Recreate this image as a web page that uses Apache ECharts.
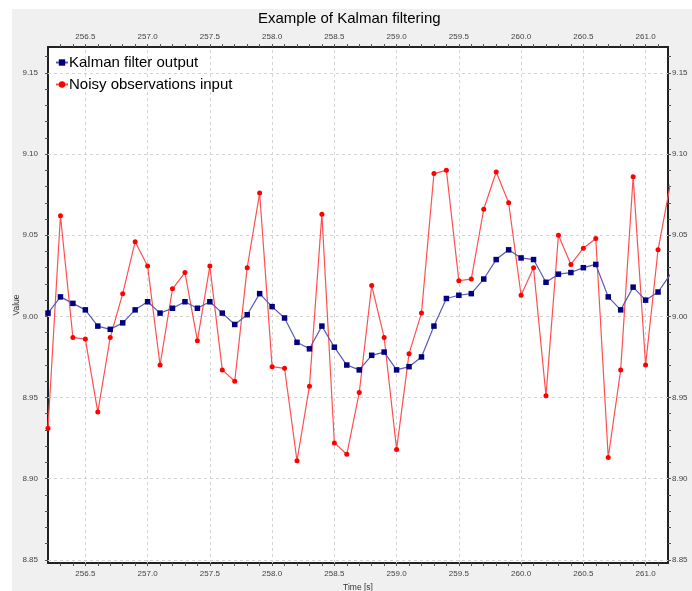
<!DOCTYPE html>
<html>
<head>
<meta charset="utf-8">
<script src="https://cdn.jsdelivr.net/npm/echarts@6/dist/echarts.min.js"></script>
<style>html,body{margin:0;padding:0;background:#fff;}#c{width:692px;height:591px;}</style>
</head>
<body>
<div id="c"></div>
<script>
var times = [256.2,256.3,256.4,256.5,256.6,256.7,256.8,256.9,257.0,257.1,257.2,257.3,257.4,257.5,257.6,257.7,257.8,257.9,258.0,258.1,258.2,258.3,258.4,258.5,258.6,258.7,258.8,258.9,259.0,259.1,259.2,259.3,259.4,259.5,259.6,259.7,259.8,259.9,260.0,260.1,260.2,260.3,260.4,260.5,260.6,260.7,260.8,260.9,261.0,261.1,261.2];
var kalman = [9.002,9.012,9.008,9.004,8.994,8.992,8.996,9.004,9.009,9.002,9.005,9.009,9.005,9.009,9.002,8.995,9.001,9.014,9.006,8.999,8.984,8.980,8.994,8.981,8.970,8.967,8.976,8.978,8.967,8.969,8.975,8.994,9.011,9.013,9.014,9.023,9.035,9.041,9.036,9.035,9.021,9.026,9.027,9.030,9.032,9.012,9.004,9.018,9.010,9.015,9.026];
var noisy = [8.931,9.062,8.987,8.986,8.941,8.987,9.014,9.046,9.031,8.970,9.017,9.027,8.985,9.031,8.967,8.960,9.030,9.076,8.969,8.968,8.911,8.957,9.063,8.922,8.915,8.953,9.019,8.987,8.918,8.977,9.002,9.088,9.090,9.022,9.023,9.066,9.089,9.070,9.013,9.030,8.951,9.050,9.032,9.042,9.048,8.913,8.967,9.086,8.970,9.041,9.082];
var xLabels = [256.5,257.0,257.5,258.0,258.5,259.0,259.5,260.0,260.5,261.0];
var yLabels = [8.85,8.90,8.95,9.00,9.05,9.10,9.15];
var xTicks = [256.3,256.4,256.5,256.6,256.7,256.8,256.9,257.0,257.1,257.2,257.3,257.4,257.5,257.6,257.7,257.8,257.9,258.0,258.1,258.2,258.3,258.4,258.5,258.6,258.7,258.8,258.9,259.0,259.1,259.2,259.3,259.4,259.5,259.6,259.7,259.8,259.9,260.0,260.1,260.2,260.3,260.4,260.5,260.6,260.7,260.8,260.9,261.0,261.1];
var yTicks = [8.85,8.86,8.87,8.88,8.89,8.90,8.91,8.92,8.93,8.94,8.95,8.96,8.97,8.98,8.99,9.00,9.01,9.02,9.03,9.04,9.05,9.06,9.07,9.08,9.09,9.10,9.11,9.12,9.13,9.14,9.15,9.16];

var font = 'Liberation Sans';
function xAxisDef(pos, margin, withName) {
  var a = {
    type: 'value', position: pos, min: 256.2, max: 261.18, gridIndex: 0,
    axisLine: {show: true, onZero: false, lineStyle: {color: '#222', width: 2}},
    axisTick: {show: true, customValues: xTicks, length: 3, lineStyle: {color: '#555'}},
    axisLabel: {customValues: xLabels, formatter: function (v) { return v.toFixed(1); }, fontSize: 8, color: '#444', fontFamily: font, margin: margin},
    splitLine: {show: false}
  };
  if (withName) {
    a.name = 'Time [s]'; a.nameLocation = 'middle'; a.nameGap = 20; a.nameMoveOverlap = false;
    a.nameTextStyle = {fontSize: 8.5, color: '#333', fontFamily: font};
  }
  return a;
}
function yAxisDef(pos, margin, withName) {
  var a = {
    type: 'value', position: pos, min: 8.848, max: 9.166, gridIndex: 0,
    axisLine: {show: true, onZero: false, lineStyle: {color: '#222', width: 2}},
    axisTick: {show: true, customValues: yTicks, length: 3, lineStyle: {color: '#555'}},
    axisLabel: {customValues: yLabels, formatter: function (v) { return v.toFixed(2); }, fontSize: 8, color: '#444', fontFamily: font, margin: margin},
    splitLine: {show: false}
  };
  if (withName) {
    a.name = 'Value'; a.nameLocation = 'middle'; a.nameGap = 27; a.nameRotate = 90; a.nameMoveOverlap = false;
    a.nameTextStyle = {fontSize: 8.5, color: '#333', fontFamily: font};
  }
  return a;
}

var gridMarks = xLabels.map(function (v) { return {xAxis: v}; }).concat(yLabels.map(function (v) { return {yAxis: v}; }));

function pairs(ys) { return times.map(function (t, i) { return [t, ys[i]]; }); }

var chart = echarts.init(document.getElementById('c'), null, {renderer: 'canvas'});
chart.setOption({
  animation: false,
  backgroundColor: '#f0f0f0',
  textStyle: {fontFamily: font},
  graphic: {elements: [
    {type: 'rect', shape: {x: 0, y: 0, width: 12, height: 591}, style: {fill: '#ffffff'}, silent: true},
    {type: 'rect', shape: {x: 0, y: 0, width: 692, height: 9}, style: {fill: '#ffffff'}, silent: true}
  ]},
  title: {text: 'Example of Kalman filtering', left: 258, top: 11, padding: 0,
    textStyle: {fontSize: 15, fontWeight: 'normal', color: '#000', fontFamily: font}},
  legend: {orient: 'vertical', left: 55, top: 55, padding: 0, itemWidth: 12, itemHeight: 8, itemGap: 7,
    textStyle: {fontSize: 15, color: '#000', fontFamily: font, padding: [0, 0, 0, -4]},
    data: ['Kalman filter output', 'Noisy observations input']},
  grid: {left: 48, right: 24, top: 47, bottom: 28, show: true, backgroundColor: '#ffffff', borderWidth: 0,
    containLabel: false, outerBoundsMode: 'none'},
  xAxis: [xAxisDef('bottom', 7, true), xAxisDef('top', 6, false)],
  yAxis: [yAxisDef('left', 10, true), yAxisDef('right', 4, false)],
  series: [
    {name: 'gridlines', type: 'line', data: [], z: 1, silent: true,
      markLine: {silent: true, z: 1, symbol: 'none', label: {show: false}, animation: false,
        lineStyle: {color: '#d4d4d4', width: 1, type: [3, 3]}, data: gridMarks}},
    {name: 'Noisy observations input', type: 'line', data: pairs(noisy), z: 3,
      symbol: 'circle', symbolSize: 5, showAllSymbol: true, clip: true,
      itemStyle: {color: '#ff0000'}, lineStyle: {color: '#ff5050', width: 1.2}},
    {name: 'Kalman filter output', type: 'line', data: pairs(kalman), z: 4,
      symbol: 'rect', symbolSize: 5.5, showAllSymbol: true, clip: true,
      itemStyle: {color: '#000080'}, lineStyle: {color: '#5a5ab4', width: 1.2}}
  ]
});
</script>
</body>
</html>
